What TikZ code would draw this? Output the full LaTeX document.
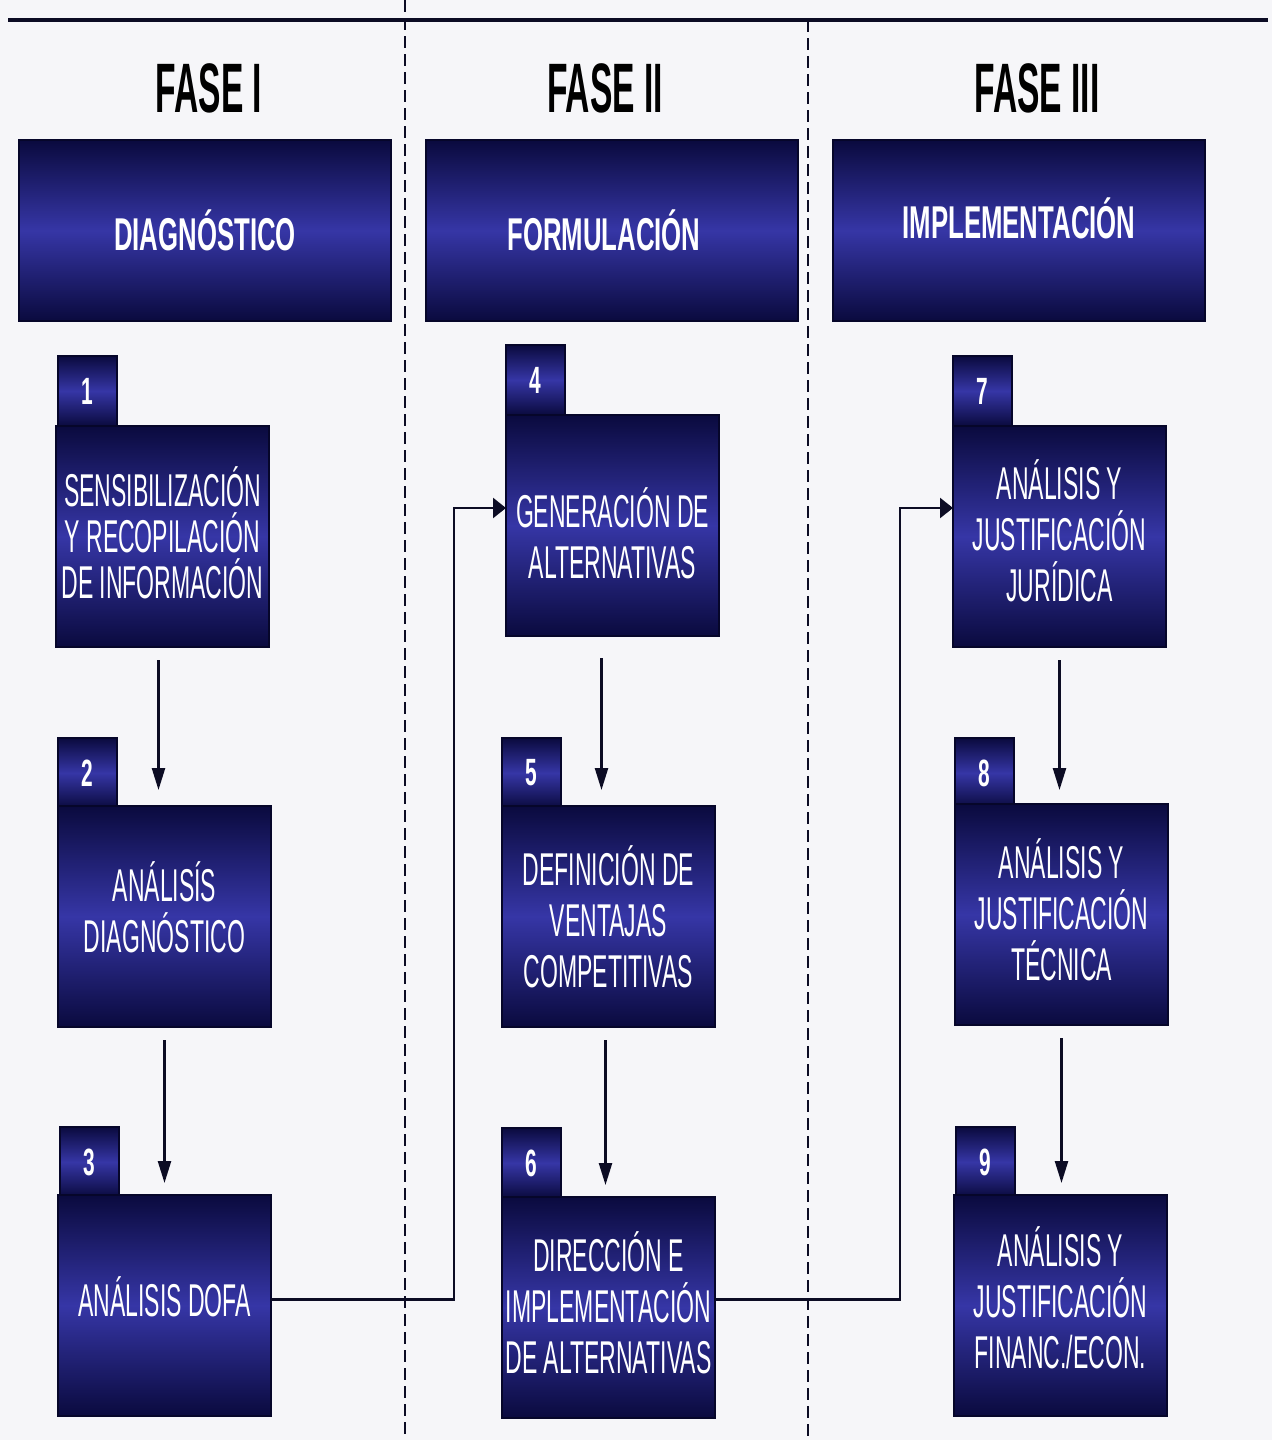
\documentclass[tikz,border=0pt]{standalone}
\usepackage{fontspec}
\setmainfont{Liberation Sans}
\newfontfamily\boxfont{Liberation Sans}[FakeStretch=0.5]
\newfontfamily\headfont{Liberation Sans}[FakeStretch=0.56]
\newfontfamily\fasefont{Liberation Sans}[FakeStretch=0.48]
\newfontfamily\numfont{Liberation Sans}[FakeStretch=0.55]
\usetikzlibrary{arrows.meta,calc}
\definecolor{bgc}{RGB}{246,246,249}
\definecolor{navyD}{RGB}{10,10,62}
\definecolor{midB}{RGB}{54,54,166}
\definecolor{edgeC}{RGB}{6,6,42}
\definecolor{lineC}{RGB}{12,12,36}
\tikzset{
  panel/.style={draw=edgeC, line width=1.2pt, top color=navyD, bottom color=navyD, middle color=midB,
    inner sep=0pt, outer sep=0pt, anchor=north west, text=white, align=center},
  headbox/.style={panel, minimum width=186pt, minimum height=90.5pt},
  stepbox/.style={panel, minimum width=106.5pt, minimum height=110.5pt},
  tabbox/.style={panel, minimum width=29.5pt, minimum height=35pt, font=\numfont\bfseries\fontsize{19}{20}\selectfont},
  headtxt/.style={text=white, inner sep=0pt, font=\headfont\bfseries\fontsize{23}{25}\selectfont},
  boxtxt/.style={text=white, inner sep=0pt, align=center, font=\boxfont\fontsize{23}{25.5}\selectfont},
  fasetxt/.style={font=\fasefont\bfseries\fontsize{35}{38}\selectfont, text=black, inner sep=0pt},
  varrow/.style={draw=lineC, line width=1.2pt, -{Triangle[length=11pt,width=6.5pt]}},
  harrow/.style={draw=lineC, line width=1.2pt, -{Triangle[length=6.5pt,width=10pt]}},
  divider/.style={draw=lineC, line width=1pt, dash pattern=on 6pt off 3pt},
}
\begin{document}
\begin{tikzpicture}[x=0.5pt,y=-0.5pt]
\fill[bgc] (0,0) rectangle (1272,1440);
\useasboundingbox (0,0) rectangle (1272,1440);
% frame lines
\coordinate (tl) at (8,20);
\coordinate (tr) at (1268,20);
\draw[lineC, line width=1.6pt] (tl) -- (tr);
\coordinate (d1a) at (405,0);
\coordinate (d1b) at (405,1440);
\coordinate (d2a) at (808,20);
\coordinate (d2b) at (808,1440);
\draw[divider] (d1a) -- (d1b);
\draw[divider] (d2a) -- (d2b);
% phase titles
\node[fasetxt] (F1) at (209,88) {FASE I};
\node[fasetxt] (F2) at (605,88) {FASE II};
\node[fasetxt] (F3) at (1037,88) {FASE III};
% header boxes
\node[headbox] (H1) at (19,140) {};
\node[headbox] (H2) at (426,140) {};
\node[headbox] (H3) at (833,140) {};
\node[headtxt] (H1t) at (H1.center) {DIAGNÓSTICO};
\node[headtxt] (H2t) at ([xshift=-4pt]H2.center) {FORMULACIÓN};
\node[headtxt] (H3t) at ([yshift=6pt]H3.center) {IMPLEMENTACIÓN};
% tabs
\node[tabbox] (T1) at (58,356) {1};
\node[tabbox] (T2) at (58,738) {2};
\node[tabbox] (T3) at (60,1127) {3};
\node[tabbox] (T4) at (506,345) {4};
\node[tabbox] (T5) at (502,738) {5};
\node[tabbox] (T6) at (502,1128) {6};
\node[tabbox] (T7) at (953,356) {7};
\node[tabbox] (T8) at (955,738) {8};
\node[tabbox] (T9) at (956,1127) {9};
% step boxes
\node[stepbox] (B1) at (56,426) {};
\node[stepbox] (B2) at (58,806) {};
\node[stepbox] (B3) at (58,1195) {};
\node[stepbox] (B4) at (506,415) {};
\node[stepbox] (B5) at (502,806) {};
\node[stepbox] (B6) at (502,1197) {};
\node[stepbox] (B7) at (953,426) {};
\node[stepbox] (B8) at (955,804) {};
\node[stepbox] (B9) at (954,1195) {};
% step texts
\node[boxtxt, font=\boxfont\fontsize{23}{23}\selectfont] (B1t) at ([yshift=2pt]B1.center) {SENSIBILIZACIÓN\\Y RECOPILACIÓN\\DE INFORMACIÓN};
\node[boxtxt] (B2t) at ([yshift=4.5pt]B2.center) {ANÁLISÍS\\DIAGNÓSTICO};
\node[boxtxt] (B3t) at ([yshift=4.5pt]B3.center) {ANÁLISIS DOFA};
\node[boxtxt] (B4t) at ([yshift=-4pt]B4.center) {GENERACIÓN DE\\ALTERNATIVAS};
\node[boxtxt] (B5t) at (B5.center) {DEFINICIÓN DE\\VENTAJAS\\COMPETITIVAS};
\node[boxtxt] (B6t) at ([yshift=2.5pt]B6.center) {DIRECCIÓN E\\IMPLEMENTACIÓN\\DE ALTERNATIVAS};
\node[boxtxt] (B7t) at ([yshift=3pt]B7.center) {ANÁLISIS Y\\JUSTIFICACIÓN\\JURÍDICA};
\node[boxtxt] (B8t) at ([yshift=2.5pt]B8.center) {ANÁLISIS Y\\JUSTIFICACIÓN\\TÉCNICA};
\node[boxtxt] (B9t) at ([yshift=4pt]B9.center) {ANÁLISIS Y\\JUSTIFICACIÓN\\FINANC./ECON.};
% vertical arrows
\draw[varrow, shorten <=6.5pt, shorten >=8pt] ([xshift=-2pt]B1.south) -- ([xshift=-2pt]B1.south |- B2.north);
\draw[varrow, shorten <=6.5pt, shorten >=6pt] (B2.south) -- (B3.north -| B2.south);
\draw[varrow, shorten <=11pt, shorten >=8pt] ([xshift=-5.5pt]B4.south) -- ([xshift=-5.5pt]B4.south |- B5.north);
\draw[varrow, shorten <=6.5pt, shorten >=6pt] ([xshift=-1.5pt]B5.south) -- ([xshift=-1.5pt]B5.south |- B6.north);
\draw[varrow, shorten <=6.5pt, shorten >=7pt] (B7.south) -- (B7.south |- B8.north);
\draw[varrow, shorten <=6.5pt, shorten >=6pt] (B8.south) -- (B8.south |- B9.north);
% phase connectors
\coordinate (c34) at (454,508);
\coordinate (c67) at (900,508);
\draw[harrow] ([yshift=3pt]B3.east) -| (c34) -- (c34 -| B4.west);
\draw[harrow] ([yshift=4pt]B6.east) -| (c67) -- (c67 -| B7.west);
\end{tikzpicture}
\end{document}
